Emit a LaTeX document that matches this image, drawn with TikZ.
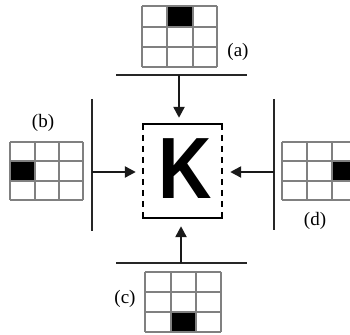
\documentclass[tikz,border=0pt]{standalone}
\usepackage{fontspec}
\setmainfont{Liberation Serif}
\newfontfamily\kfont{Liberation Sans}
\usetikzlibrary{arrows.meta}
\begin{document}
\begin{tikzpicture}[x=1pt,y=-1pt,
  bar/.style={line width=2.4pt, draw=black!85},
  arr/.style={line width=2.4pt, draw=black!90, -{Triangle[length=11pt,width=11pt]}},
  gridl/.style={draw=black!50, line width=1.1pt},
  blk/.style={fill=black},
  boxline/.style={line width=2.4pt, draw=black},
  lab/.style={font=\fontsize{19}{19}\selectfont, inner sep=0pt}]
\useasboundingbox (0,0) rectangle (350,334);
% grid (a), top
\fill[blk] (167,6) rectangle (193,27);
\foreach \x in {142,167,193,217} \draw[gridl] (\x,6) -- (\x,67);
\foreach \y in {6,27,47,67} \draw[gridl] (142,\y) -- (217,\y);
% grid (b), left
\fill[blk] (10,161) rectangle (35,181);
\foreach \x in {10,35,59,83} \draw[gridl] (\x,142) -- (\x,200);
\foreach \y in {142,161,181,200} \draw[gridl] (10,\y) -- (83,\y);
% grid (d), right
\fill[blk] (332,161) rectangle (357,181);
\foreach \x in {282,307,332,357} \draw[gridl] (\x,142) -- (\x,200);
\foreach \y in {142,161,181,200} \draw[gridl] (282,\y) -- (357,\y);
% grid (c), bottom
\fill[blk] (171,312) rectangle (196,332);
\foreach \x in {145,171,196,221} \draw[gridl] (\x,272) -- (\x,332);
\foreach \y in {272,292,312,332} \draw[gridl] (145,\y) -- (221,\y);
% labels
\node[lab] (la) at (238,52) {(a)};
\node[lab] (lb) at (43,123) {(b)};
\node[lab] (ld) at (315,221) {(d)};
\node[lab] (lc) at (125,299) {(c)};
% bars
\draw[bar] (116,75) -- (247,75);
\draw[bar] (116,263) -- (247,263);
\draw[bar] (92,99) -- (92,231);
\draw[bar] (274,99) -- (274,230);
\coordinate (ta) at (179,75);
\coordinate (tc) at (181,263);
\coordinate (tb) at (92,172);
\coordinate (td) at (274,172);
% central box
\node[minimum width=79pt, minimum height=94pt, inner sep=0pt] (box) at (182.5,171) {};
\draw[boxline] ([yshift=-6pt]box.north west) -- (box.north west) -- (box.north east) -- ([yshift=-6pt]box.north east);
\draw[boxline] ([yshift=6pt]box.south west) -- (box.south west) -- (box.south east) -- ([yshift=6pt]box.south east);
\draw[boxline, dash pattern=on 6pt off 5pt] ([yshift=-11pt]box.north west) -- ([yshift=11pt]box.south west);
\draw[boxline, dash pattern=on 6pt off 5pt] ([yshift=-11pt]box.north east) -- ([yshift=11pt]box.south east);
\node[inner sep=0pt, font=\kfont\bfseries\fontsize{87}{87}\selectfont, xscale=0.85] (k) at (185,169) {K};
% arrows
\draw[arr, shorten >=6pt] (ta) -- (ta |- box.north);
\draw[arr, shorten >=8pt] (tc) -- (tc |- box.south);
\draw[arr, shorten >=7pt] (tb) -- (tb -| box.west);
\draw[arr, shorten >=8pt] (td) -- (td -| box.east);
\end{tikzpicture}
\end{document}
